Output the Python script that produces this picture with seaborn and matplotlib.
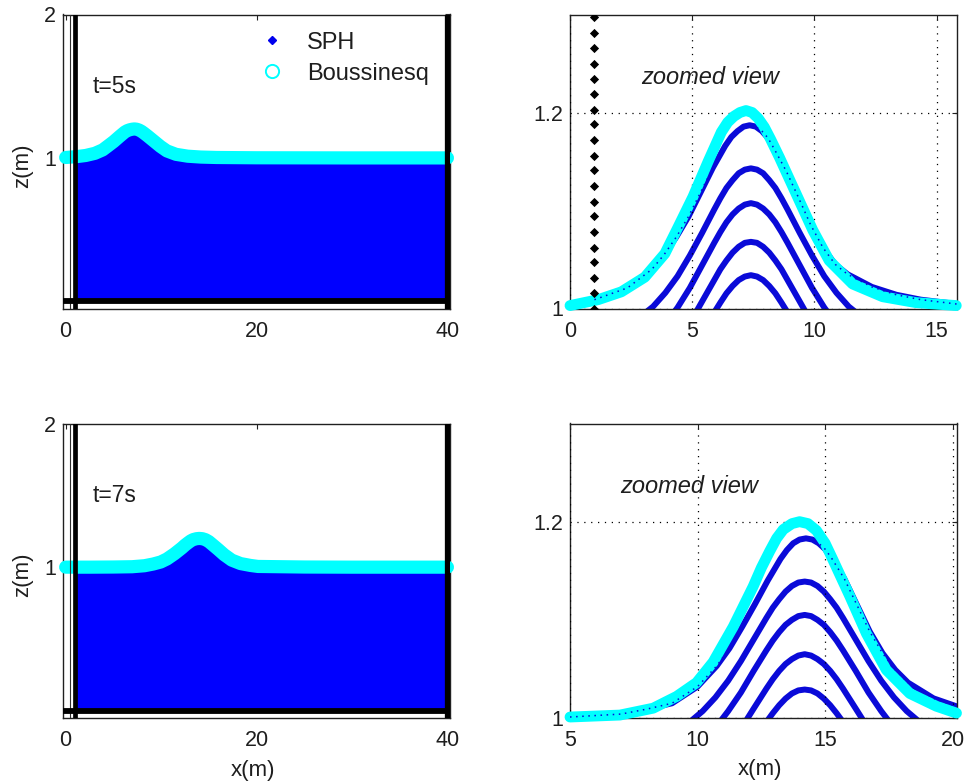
import numpy as np
import pandas as pd
import matplotlib
matplotlib.use("Agg")
import matplotlib.pyplot as plt
import seaborn as sns
from matplotlib.lines import Line2D

# ---------------- data ----------------
# Boussinesq free surface, t = 5 s
bouss5_x = [0.0, 1.15, 2.1, 3.06, 3.88, 4.42, 5.03, 5.65, 6.19, 6.45, 6.7, 6.95, 7.2, 7.45,
            7.7, 7.95, 8.2, 8.57, 9.25, 9.93, 10.6, 11.56, 12.79, 14.15, 15.8, 20.0, 30.0,
            40.0]
bouss5_z = [1.003, 1.009, 1.017, 1.032, 1.056, 1.083, 1.114, 1.150, 1.180, 1.190, 1.196,
            1.2, 1.202, 1.200, 1.194, 1.185, 1.173, 1.154, 1.117, 1.080, 1.049, 1.025, 1.012,
            1.006, 1.003, 1.001, 1.0, 1.0]
# Boussinesq free surface, t = 7 s
bouss7_x = [0.0, 2.5, 5.0, 6.96, 8.26, 9.18, 9.96, 10.61, 11.4, 12.18, 12.5, 12.83, 13.1,
            13.36, 13.7, 14.0, 14.33, 14.66, 15.0, 15.31, 15.97, 16.62, 17.4, 18.32, 19.36,
            20.15, 25.0, 30.0, 40.0]
bouss7_z = [1.0, 1.0, 1.001, 1.003, 1.01, 1.022, 1.036, 1.057, 1.093, 1.134, 1.153, 1.170,
            1.183, 1.192, 1.198, 1.2, 1.198, 1.191, 1.178, 1.161, 1.124, 1.086, 1.049, 1.025,
            1.012, 1.005, 1.001, 1.0, 1.0]

# SPH free surface (top particle layer), t = 5 s
sph5_surf_x = [1.0, 2.35, 3.35, 3.85, 4.35, 4.85, 5.35, 5.85, 6.35, 6.6, 6.85, 7.1, 7.35,
               7.6, 7.85, 8.1, 8.35, 8.85, 9.35, 9.85, 10.35, 10.85, 11.35, 12.35, 13.35,
               14.35, 15.35, 16.0, 20.0, 30.0, 40.0]
sph5_surf_z = [1.009, 1.021, 1.040, 1.055, 1.073, 1.094, 1.119, 1.144, 1.166, 1.175, 1.181,
               1.1856, 1.187, 1.1856, 1.181, 1.174, 1.163, 1.140, 1.113, 1.085, 1.062, 1.045,
               1.035, 1.022, 1.014, 1.009, 1.006, 1.004, 1.0, 1.0, 1.0]
# SPH inner particle layers, t = 5 s (zoomed view)
sph5_l2_x = [2.9, 3.4, 3.9, 4.4, 4.9, 5.4, 5.9, 6.15, 6.4, 6.65, 6.9, 7.15, 7.4, 7.65, 7.9,
             8.15, 8.4, 8.65, 8.9, 9.4, 9.9, 10.4, 10.9, 11.4, 11.9]
sph5_l2_z = [0.992, 1.002, 1.016, 1.033, 1.054, 1.077, 1.101, 1.1125, 1.123, 1.131, 1.138,
             1.1417, 1.143, 1.1417, 1.138, 1.131, 1.123, 1.1125, 1.101, 1.077, 1.054, 1.033,
             1.016, 1.002, 0.992]
sph5_l3_x = [3.9, 4.4, 4.9, 5.4, 5.9, 6.15, 6.4, 6.65, 6.9, 7.15, 7.4, 7.65, 7.9, 8.15, 8.4,
             8.65, 8.9, 9.4, 9.9, 10.4, 10.9]
sph5_l3_z = [0.984, 1.001, 1.021, 1.044, 1.067, 1.078, 1.088, 1.096, 1.102, 1.106, 1.1075,
             1.106, 1.102, 1.096, 1.088, 1.078, 1.067, 1.044, 1.021, 1.001, 0.984]
sph5_l4_x = [4.9, 5.4, 5.9, 6.15, 6.4, 6.65, 6.9, 7.15, 7.4, 7.65, 7.9, 8.15, 8.4, 8.65, 8.9,
             9.4, 9.9]
sph5_l4_z = [0.985, 1.007, 1.029, 1.040, 1.049, 1.057, 1.063, 1.067, 1.068, 1.067, 1.063,
             1.057, 1.049, 1.040, 1.029, 1.007, 0.985]
sph5_l5_x = [5.9, 6.15, 6.4, 6.65, 6.9, 7.15, 7.4, 7.65, 7.9, 8.15, 8.4, 8.65, 8.9]
sph5_l5_z = [0.996, 1.006, 1.0155, 1.023, 1.029, 1.0326, 1.034, 1.0326, 1.029, 1.023,
             1.0155, 1.006, 0.996]

# SPH free surface, t = 7 s
sph7_surf_x = [1.0, 5.0, 7.0, 8.0, 9.0, 10.0, 10.75, 11.25, 11.75, 12.25, 12.75, 13.25,
               13.5, 13.75, 14.0, 14.25, 14.5, 14.75, 15.0, 15.25, 15.75, 16.25, 16.75,
               17.25, 17.75, 18.25, 19.25, 20.25, 22.25, 25.0, 30.0, 40.0]
sph7_surf_z = [1.0, 1.001, 1.004, 1.009, 1.015, 1.032, 1.053, 1.071, 1.093, 1.116, 1.140,
               1.162, 1.171, 1.178, 1.1818, 1.183, 1.1818, 1.178, 1.172, 1.163, 1.142, 1.115,
               1.088, 1.066, 1.049, 1.036, 1.020, 1.011, 1.004, 1.001, 1.0, 1.0]
# SPH inner particle layers, t = 7 s (zoomed view)
sph7_l2_x = [9.7, 10.2, 10.7, 11.2, 11.7, 12.2, 12.7, 12.95, 13.2, 13.45, 13.7, 13.95, 14.2,
             14.45, 14.7, 14.95, 15.2, 15.45, 15.7, 16.2, 16.7, 17.2, 17.7, 18.2, 18.7]
sph7_l2_z = [0.996, 1.007, 1.021, 1.038, 1.058, 1.080, 1.102, 1.1124, 1.121, 1.1288, 1.1345,
             1.138, 1.139, 1.138, 1.1345, 1.1288, 1.121, 1.1124, 1.102, 1.080, 1.058, 1.038,
             1.021, 1.007, 0.996]
sph7_l3_x = [10.7, 11.2, 11.7, 12.2, 12.7, 12.95, 13.2, 13.45, 13.7, 13.95, 14.2, 14.45,
             14.7, 14.95, 15.2, 15.45, 15.7, 16.2, 16.7, 17.2, 17.7]
sph7_l3_z = [0.990, 1.007, 1.026, 1.048, 1.069, 1.0789, 1.0875, 1.0949, 1.100, 1.1038, 1.105,
             1.1038, 1.100, 1.0949, 1.0875, 1.0789, 1.069, 1.048, 1.026, 1.007, 0.990]
sph7_l4_x = [11.7, 12.2, 12.7, 12.95, 13.2, 13.45, 13.7, 13.95, 14.2, 14.45, 14.7, 14.95,
             15.2, 15.45, 15.7, 16.2, 16.7]
sph7_l4_z = [0.989, 1.0096, 1.030, 1.0396, 1.048, 1.055, 1.060, 1.0636, 1.065, 1.0636, 1.060,
             1.055, 1.048, 1.0396, 1.030, 1.0096, 0.989]
sph7_l5_x = [12.7, 12.95, 13.2, 13.45, 13.7, 13.95, 14.2, 14.45, 14.7, 14.95, 15.2, 15.45,
             15.7]
sph7_l5_z = [0.996, 1.0049, 1.013, 1.0198, 1.025, 1.0281, 1.029, 1.0281, 1.025, 1.0198, 1.013,
             1.0049, 0.996]

# boundary (wall) particles
wall_left_x = 1.0
wall_inner_x = 0.5
wall_right_x = 40.0
wall_bottom_z = 0.0
wall_zoom_z = [1.000, 1.016, 1.031, 1.047, 1.062, 1.078, 1.094, 1.109, 1.125, 1.141,
               1.156, 1.172, 1.188, 1.203, 1.219, 1.234, 1.250, 1.266, 1.281, 1.297]

# axes settings
full_xlim = (-0.25, 40.27)
full_ylim = (-0.05, 2.0)
full_xticks = [0, 20, 40]
full_yticks = [1, 2]
zoom5_xlim = (0, 15.83)
zoom7_xlim = (5, 20.17)
zoom_ylim = (1.0, 1.3)
zoom5_xticks = [0, 5, 10, 15]
zoom7_xticks = [5, 10, 15, 20]
zoom_yticks = [1, 1.2]
zoom_yticklabels = ["1", "1.2"]
time_labels = ["t=5s", "t=7s"]
legend_labels = ["SPH", "Boussinesq"]

# ---------------- style ----------------
sns.set_style("white")
plt.rcParams["font.family"] = ["Liberation Sans", "DejaVu Sans"]
TXT = "#1e1e1e"
FILL = "#0000ff"
LINE_BLUE = "#0a0ad8"
CYAN = "#00ffff"

fig = plt.figure(figsize=(9.66, 7.84), dpi=100)
W, H = 966, 784


def add_ax(x0, y0, x1, y1):
    return fig.add_axes([x0 / W, 1 - y1 / H, (x1 - x0) / W, (y1 - y0) / H])


ax_tl = add_ax(63.3, 14.5, 450, 308.5)
ax_tr = add_ax(570, 14.5, 957, 308.5)
ax_bl = add_ax(63.3, 423.5, 450, 718)
ax_br = add_ax(570, 423.5, 957, 718)


def style_axes(ax):
    for s in ax.spines.values():
        s.set_color("#202020")
        s.set_linewidth(1.0)
        s.set_visible(True)
    ax.tick_params(direction="in", top=True, right=True, length=3.5, width=0.8,
                   colors="#202020", labelcolor=TXT, labelsize=15.5)
    ax.tick_params(axis="x", pad=9)
    ax.tick_params(axis="y", pad=5)
    ax.set_xlabel("")
    ax.set_ylabel("")


def full_panel(ax, sx, sz, bx, bz, tlabel):
    ax.fill_between(sx, wall_bottom_z, sz, color=FILL, lw=0, zorder=1)
    dfb = pd.DataFrame({"x": bx, "z": bz})
    sns.lineplot(data=dfb, x="x", y="z", ax=ax, color=CYAN, lw=9.5, sort=False,
                 estimator=None, zorder=3, solid_capstyle="round",
                 solid_joinstyle="round")
    ax.lines[-1].set_clip_on(False)
    ax.axvline(wall_inner_x, color="#303030", lw=0.8, zorder=4)
    ax.axvline(wall_left_x, color="black", lw=3.4, zorder=5)
    ax.axvline(wall_right_x, color="black", lw=3.8, zorder=5)
    ax.axhline(wall_bottom_z, color="black", lw=4.2, zorder=5)
    ax.set_xlim(*full_xlim)
    ax.set_ylim(*full_ylim)
    ax.set_xticks(full_xticks)
    ax.set_yticks(full_yticks)
    style_axes(ax)
    ax.text(2.8, 1.5, tlabel, fontsize=16.5, color=TXT, ha="left", va="center")
    ax.set_ylabel("z(m)", fontsize=16, color=TXT)
    ax.yaxis.set_label_coords(-0.078, 0.485)


def zoom_panel(ax, xlim, xticks, sx, sz, layers, bx, bz, show_wall):
    rows = []
    for k, (lx, lz) in enumerate(layers):
        for a, b in zip(lx, lz):
            rows.append((a, b, k))
    dfl = pd.DataFrame(rows, columns=["x", "z", "layer"])
    dfs = pd.DataFrame({"x": sx, "z": sz})
    dfs = dfs[(dfs.x >= xlim[0] - 1) & (dfs.x <= xlim[1] + 1)]
    sns.lineplot(data=dfs, x="x", y="z", ax=ax, color=LINE_BLUE, lw=4.3, sort=False,
                 estimator=None, zorder=2, solid_joinstyle="round")
    sns.lineplot(data=dfl, x="x", y="z", units="layer", estimator=None, ax=ax,
                 color=LINE_BLUE, lw=4.3, sort=False, zorder=2, solid_joinstyle="round")
    dfb = pd.DataFrame({"x": bx, "z": bz})
    dfb = dfb[(dfb.x >= xlim[0]) & (dfb.x <= xlim[1])]
    sns.lineplot(data=dfb, x="x", y="z", ax=ax, color=CYAN, lw=7.8, sort=False,
                 estimator=None, zorder=3, solid_capstyle="round", solid_joinstyle="round")
    ax.lines[-1].set_clip_on(False)
    # sparse SPH particles visible inside the band
    sns.lineplot(data=dfs, x="x", y="z", ax=ax, color=LINE_BLUE, lw=1.1, sort=False,
                 estimator=None, zorder=4, linestyle=(0, (1, 3)))
    if show_wall:
        dfw = pd.DataFrame({"x": [wall_left_x] * len(wall_zoom_z), "z": wall_zoom_z})
        sns.scatterplot(data=dfw, x="x", y="z", ax=ax, marker="D", s=22, color="black",
                        edgecolor="black", linewidth=0, zorder=5)
    ax.set_xlim(*xlim)
    ax.set_ylim(*zoom_ylim)
    ax.set_xticks(xticks)
    ax.set_yticks(zoom_yticks)
    ax.set_yticklabels(zoom_yticklabels)
    style_axes(ax)
    ax.grid(True, color="black", lw=0.9, linestyle=(0, (1, 4.5)))
    ax.set_axisbelow(False)
    for gl in ax.get_xgridlines() + ax.get_ygridlines():
        gl.set_zorder(1.5)


full_panel(ax_tl, sph5_surf_x, sph5_surf_z, bouss5_x, bouss5_z, time_labels[0])
full_panel(ax_bl, sph7_surf_x, sph7_surf_z, bouss7_x, bouss7_z, time_labels[1])

zoom_panel(ax_tr, zoom5_xlim, zoom5_xticks, sph5_surf_x, sph5_surf_z,
           [(sph5_l2_x, sph5_l2_z), (sph5_l3_x, sph5_l3_z), (sph5_l4_x, sph5_l4_z),
            (sph5_l5_x, sph5_l5_z)], bouss5_x, bouss5_z, True)
zoom_panel(ax_br, zoom7_xlim, zoom7_xticks, sph7_surf_x, sph7_surf_z,
           [(sph7_l2_x, sph7_l2_z), (sph7_l3_x, sph7_l3_z), (sph7_l4_x, sph7_l4_z),
            (sph7_l5_x, sph7_l5_z)], bouss7_x, bouss7_z, False)

ax_tr.text(2.93, 1.236, "zoomed view", fontsize=17, style="italic", color=TXT,
           ha="left", va="center")
ax_br.text(6.96, 1.2355, "zoomed view", fontsize=17, style="italic", color=TXT,
           ha="left", va="center")

ax_bl.set_xlabel("x(m)", fontsize=16, color=TXT)
ax_bl.xaxis.set_label_coords(0.49, -0.142)
ax_br.set_xlabel("x(m)", fontsize=16, color=TXT)
ax_br.xaxis.set_label_coords(0.49, -0.138)

handles = [Line2D([], [], ls="none", marker="D", markersize=4.5, color="#0000ee"),
           Line2D([], [], ls="none", marker="o", markersize=9.5, markerfacecolor="none",
                  markeredgecolor=CYAN, markeredgewidth=1.4)]
leg = ax_tl.legend(handles, legend_labels, frameon=False, loc="upper left",
                   bbox_to_anchor=(0.509, 0.942), borderaxespad=0, borderpad=0,
                   handlelength=1.0, handletextpad=1.0, labelspacing=0.38,
                   fontsize=17)
for t in leg.get_texts():
    t.set_color(TXT)

fig.savefig("out.png", dpi=100)
